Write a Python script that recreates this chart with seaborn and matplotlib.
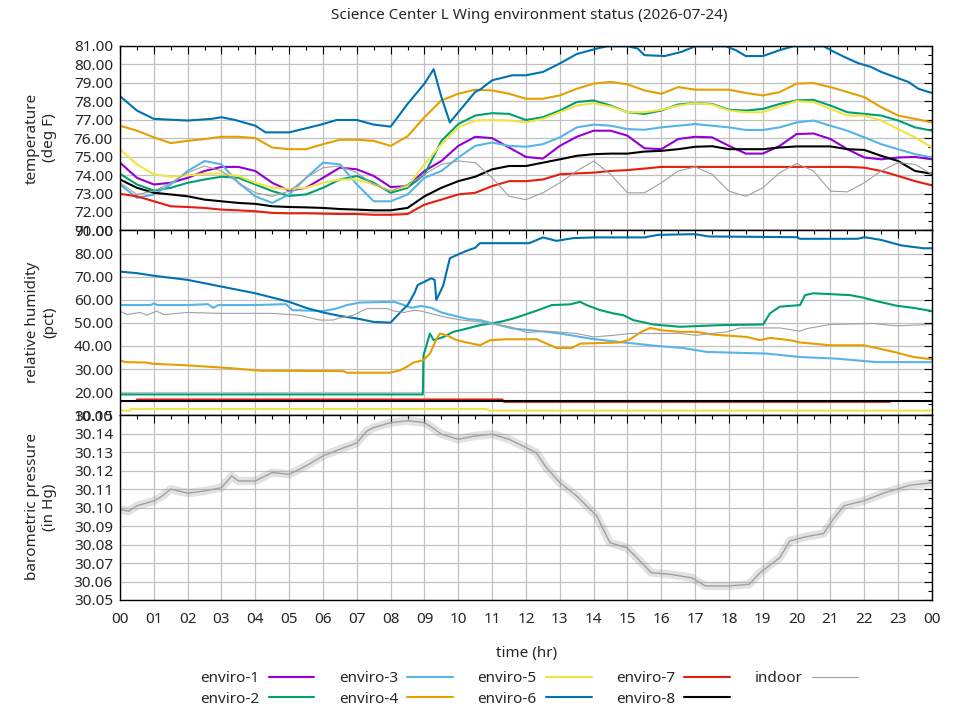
import matplotlib
matplotlib.use("Agg")
import matplotlib.pyplot as plt
import seaborn as sns
from matplotlib.lines import Line2D
from matplotlib.ticker import MultipleLocator, FormatStrFormatter

# ---------------- data ----------------
TITLE = "Science Center L Wing environment status (2026-07-24)"
SENSORS = ["enviro-1", "enviro-2", "enviro-3", "enviro-4", "enviro-5",
           "enviro-6", "enviro-7", "enviro-8", "indoor"]
COLORS = ["#9400d3", "#009e73", "#56b4e9", "#e69f00", "#f0e442",
          "#0072b2", "#e51e10", "#000000", "#a0a0a0"]
HOUR_LABELS = ["00", "01", "02", "03", "04", "05", "06", "07", "08", "09", "10", "11",
               "12", "13", "14", "15", "16", "17", "18", "19", "20", "21", "22", "23", "00"]
TEMP_TICKS = [71, 72, 73, 74, 75, 76, 77, 78, 79, 80, 81]
HUM_TICKS = [10, 20, 30, 40, 50, 60, 70, 80, 90]
PRES_TICKS = [30.05, 30.06, 30.07, 30.08, 30.09, 30.10, 30.11, 30.12, 30.13, 30.14, 30.15]

# half-hour sampling of temperature curves (hours)
T_HOURS = [0, 0.5, 1, 1.5, 2, 2.5, 3, 3.5, 4, 4.5, 5, 5.5, 6, 6.5, 7, 7.5, 8, 8.5,
           9, 9.5, 10, 10.5, 11, 11.5, 12, 12.5, 13, 13.5, 14, 14.5, 15, 15.5, 16, 16.5,
           17, 17.5, 18, 18.5, 19, 19.5, 20, 20.5, 21, 21.5, 22, 22.5, 23, 23.5, 24]

T_E1 = [74.67, 73.85, 73.49, 73.58, 73.85, 74.22, 74.44, 74.44, 74.22, 73.58, 73.16, 73.31,
        73.85, 74.40, 74.31, 73.95, 73.35, 73.40, 74.22, 74.76, 75.58, 76.07,
        76.00, 75.49, 74.98, 74.89, 75.58, 76.07, 76.40, 76.40, 76.13, 75.45, 75.40, 75.95,
        76.07, 76.04, 75.58, 75.16, 75.16, 75.58, 76.22, 76.25, 75.95, 75.40, 74.95, 74.85,
        74.95, 74.98, 74.85]
T_E2 = [74.07, 73.49, 73.16, 73.31, 73.58, 73.76, 73.91, 73.85, 73.49, 73.13, 72.87, 72.95,
        73.31, 73.76, 73.95, 73.58, 73.04, 73.31, 74.04, 75.85, 76.76, 77.22,
        77.35, 77.31, 76.98, 77.13, 77.49, 77.95, 78.04, 77.76, 77.40, 77.31, 77.49, 77.82,
        77.89, 77.85, 77.53, 77.49, 77.58, 77.85, 78.04, 78.07, 77.76, 77.40, 77.31, 77.22,
        76.95, 76.58, 76.40]
T_E3 = [73.49, 72.76, 72.95, 73.49, 74.22, 74.76, 74.58, 73.58, 72.85, 72.49, 72.95, 73.85,
        74.67, 74.58, 73.49, 72.58, 72.58, 72.95, 73.85, 74.22, 74.95, 75.58,
        75.76, 75.58, 75.53, 75.67, 76.04, 76.58, 76.73, 76.67, 76.49, 76.45, 76.58, 76.67,
        76.76, 76.67, 76.58, 76.44, 76.44, 76.58, 76.85, 76.95, 76.67, 76.40, 76.04, 75.67,
        75.40, 75.13, 74.95]
T_E4 = [76.67, 76.40, 76.04, 75.73, 75.85, 75.95, 76.07, 76.07, 76.00, 75.49, 75.40, 75.40,
        75.67, 75.91, 75.91, 75.85, 75.58, 76.10, 77.13, 78.04, 78.40, 78.62,
        78.58, 78.40, 78.13, 78.13, 78.31, 78.67, 78.95, 79.04, 78.91, 78.58, 78.40, 78.76,
        78.62, 78.62, 78.62, 78.44, 78.31, 78.49, 78.95, 78.98, 78.76, 78.49, 78.22, 77.67,
        77.22, 77.04, 76.85]
T_E5 = [75.40, 74.58, 74.04, 73.91, 73.98, 74.07, 74.09, 73.95, 73.58, 73.31, 73.25, 73.31,
        73.58, 73.76, 73.76, 73.49, 73.16, 73.40, 74.58, 75.67, 76.58, 76.95,
        76.98, 76.95, 76.85, 77.04, 77.40, 77.76, 77.89, 77.71, 77.40, 77.40, 77.53, 77.76,
        77.89, 77.82, 77.49, 77.40, 77.40, 77.71, 78.00, 77.95, 77.58, 77.22, 77.22, 76.95,
        76.49, 76.04, 75.49]
T_E7 = [72.98, 72.85, 72.58, 72.31, 72.27, 72.22, 72.13, 72.09, 72.04, 71.95, 71.93, 71.93,
        71.91, 71.89, 71.89, 71.85, 71.85, 71.89, 72.40, 72.67, 72.95, 73.04,
        73.40, 73.67, 73.67, 73.76, 74.04, 74.09, 74.13, 74.22, 74.27, 74.35, 74.44, 74.44,
        74.44, 74.44, 74.44, 74.44, 74.44, 74.44, 74.44, 74.44, 74.44, 74.44, 74.40, 74.22,
        73.95, 73.67, 73.44]
T_E8 = [73.76, 73.31, 73.04, 72.95, 72.85, 72.67, 72.58, 72.49, 72.44, 72.31, 72.27, 72.25,
        72.22, 72.16, 72.13, 72.09, 72.09, 72.22, 72.85, 73.31, 73.67, 73.91,
        74.31, 74.49, 74.49, 74.67, 74.85, 75.04, 75.13, 75.16, 75.16, 75.27, 75.31, 75.40,
        75.53, 75.56, 75.40, 75.40, 75.40, 75.49, 75.55, 75.55, 75.55, 75.40, 75.36, 75.04,
        74.76, 74.22, 74.07]
T_IN = [73.58, 72.95, 73.13, 73.58, 74.13, 74.49, 74.22, 73.58, 73.04, 72.85, 73.13, 73.85,
        74.40, 74.49, 74.13, 73.49, 73.13, 73.49, 74.04, 74.58, 74.76, 74.67,
        73.85, 72.85, 72.67, 73.04, 73.58, 74.22, 74.76, 74.04, 73.04, 73.04, 73.58, 74.22,
        74.44, 74.04, 73.13, 72.85, 73.31, 74.13, 74.62, 74.22, 73.13, 73.09, 73.58, 74.22,
        74.67, 74.58, 74.04]

T_E6_X = [0, 0.5, 1.0, 2.0, 2.7, 3.0, 3.4, 4.0, 4.3, 5.0, 5.5, 6.0, 6.4, 7.0, 7.5, 8.0,
          8.5, 9.0, 9.27, 9.5, 9.75, 10.0, 10.5, 10.64, 11.0, 11.6, 12.0, 12.5, 13.0, 13.5,
          14.1, 14.4, 15.0, 15.3, 15.5, 16.1, 16.6, 17.0, 17.9, 18.2, 18.5, 19.0, 19.5, 19.9,
          20.8, 21.1, 21.4, 21.8, 22.2, 22.5, 22.9, 23.3, 23.6, 24.0]
T_E6 = [78.27, 77.49, 77.04, 76.95, 77.04, 77.13, 76.98, 76.67, 76.31, 76.31, 76.53, 76.76,
        76.98, 76.98, 76.73, 76.62, 77.85, 78.95, 79.73, 78.22, 76.85, 77.40, 78.50, 78.62,
        79.13, 79.40, 79.40, 79.58, 80.04, 80.55, 80.85, 80.97, 80.97, 80.85, 80.49, 80.44,
        80.67, 80.97, 80.97, 80.76, 80.44, 80.44, 80.76, 80.97, 80.97, 80.67, 80.40, 80.07,
        79.85, 79.58, 79.31, 79.04, 78.67, 78.44]

# relative humidity
H_E2_X = [0, 8.95, 8.97, 9.06, 9.16, 9.27, 9.56, 9.85, 10.25, 10.64, 11.23, 11.63, 11.92,
          12.36, 12.76, 13.3, 13.6, 13.79, 14.19, 14.58, 14.88, 15.17, 15.76, 16.55, 17.73,
          19.01, 19.21, 19.5, 20.1, 20.25, 20.49, 21.58, 21.97, 22.36, 22.96, 23.45, 24.0]
H_E2 = [19.0, 19.0, 35.9, 40.3, 45.4, 42.5, 43.9, 46.1, 47.5, 49.0, 50.4, 51.9, 53.3, 55.5,
        57.7, 58.0, 59.1, 57.7, 55.5, 54.1, 53.3, 51.2, 49.3, 48.3, 49.0, 49.3, 54.1, 57.0,
        57.7, 62.0, 62.8, 62.0, 60.9, 59.4, 57.4, 56.5, 55.1]
H_E3_X = [0, 0.9, 1.0, 1.1, 2.0, 2.6, 2.76, 2.9, 4.0, 4.9, 5.1, 6.0, 6.4, 6.7, 7.1, 8.1,
          8.4, 8.6, 8.9, 9.2, 9.5, 9.9, 10.3, 10.64, 11.03, 11.63, 12.61, 13.0, 13.89, 14.58,
          15.86, 16.65, 17.34, 19.11, 20.1, 21.18, 22.36, 24.0]
H_E3 = [57.7, 57.7, 58.4, 57.7, 57.7, 58.1, 56.5, 57.7, 57.7, 58.1, 55.5, 55.1, 56.2, 57.7,
        58.8, 59.1, 57.7, 56.5, 57.3, 56.5, 54.5, 53.0, 51.6, 51.2, 49.7, 47.5, 46.1, 45.4,
        43.2, 42.0, 40.0, 39.1, 37.4, 36.7, 35.2, 34.5, 33.0, 33.0]
H_E4_X = [0, 0.15, 0.79, 0.95, 1.97, 3.25, 4.14, 6.6, 6.7, 7.98, 8.27, 8.47, 8.67, 8.96,
          9.16, 9.36, 9.46, 9.66, 9.95, 10.25, 10.64, 10.94, 11.43, 12.32, 12.61, 12.91,
          13.35, 13.6, 14.78, 15.07, 15.37, 15.67, 16.01, 16.55, 17.04, 17.54, 18.52, 18.92,
          19.21, 19.8, 20.1, 20.99, 21.97, 22.46, 22.96, 23.45, 24.0]
H_E4 = [33.8, 33.0, 32.8, 32.3, 31.6, 30.4, 29.3, 29.1, 28.4, 28.4, 29.4, 30.9, 32.8, 33.8,
        36.7, 43.2, 45.4, 44.6, 42.5, 41.5, 40.3, 42.5, 42.9, 42.9, 41.0, 39.1, 39.1, 41.0,
        41.5, 42.8, 45.8, 47.8, 46.8, 46.1, 46.1, 44.9, 43.9, 42.5, 43.5, 42.5, 41.5, 40.3,
        40.3, 38.8, 37.1, 35.2, 34.2]
H_E5_X = [0, 0.3, 0.32, 10.84, 10.9, 24.0]
H_E5 = [12.0, 12.0, 12.7, 12.7, 12.0, 12.0]
H_E6_X = [0, 0.5, 1, 2, 3, 4, 5, 5.5, 6, 6.5, 7, 7.5, 8, 8.3, 8.5, 8.7, 8.8, 9.0, 9.2, 9.3,
          9.35, 9.55, 9.75, 10.05, 10.3, 10.5, 10.64, 10.74, 12.1, 12.5, 12.9, 13.4, 14.0,
          15.5, 15.9, 17.0, 17.4, 20.0, 20.1, 21.8, 22.0, 22.5, 23.1, 23.75, 24.0]
H_E6 = [72.2, 71.5, 70.4, 68.6, 65.7, 62.8, 59.1, 56.5, 54.5, 53.0, 51.9, 50.4, 50.1, 54.8,
        57.7, 62.8, 66.4, 67.8, 69.3, 68.6, 59.9, 66.0, 78.0, 80.0, 81.5, 82.5, 84.5, 84.5,
        84.5, 87.0, 85.5, 86.7, 87.0, 87.0, 88.1, 88.4, 87.4, 87.1, 86.4, 86.4, 87.1, 85.9,
        83.5, 82.3, 82.3]
H_E7_X = [0.5, 11.3, 11.35, 22.76]
H_E7 = [16.8, 16.8, 15.8, 15.8]
H_E8_X = [0, 24.0]
H_E8 = [16.1, 16.1]
H_IN_X = [0, 0.2, 0.6, 0.8, 1.08, 1.3, 2.0, 3.0, 4.5, 5.3, 5.9, 6.3, 6.5, 6.9, 7.1, 7.3,
          7.9, 8.1, 8.4, 8.7, 8.9, 9.3, 9.7, 10.1, 10.64, 11.53, 12.02, 12.61, 13.5, 13.99,
          14.58, 15.07, 16.55, 17.04, 17.93, 18.33, 19.5, 20.1, 20.3, 20.99, 22.27, 22.96, 24.0]
H_IN = [55.1, 53.6, 54.5, 53.3, 55.1, 53.6, 54.5, 54.1, 54.1, 53.3, 51.2, 51.2, 52.2, 53.3,
        54.8, 56.2, 56.2, 55.1, 54.5, 55.5, 55.1, 53.6, 52.2, 51.2, 50.4, 48.3, 45.8, 46.4,
        45.4, 43.9, 44.6, 45.4, 45.4, 44.6, 46.1, 47.8, 47.8, 46.4, 47.5, 49.3, 49.7, 48.7, 49.3]

# barometric pressure (indoor)
P_X = [0, 0.25, 0.5, 1.0, 1.25, 1.5, 2.0, 2.5, 3.0, 3.3, 3.5, 4.0, 4.5, 5.0, 5.5, 6.0, 6.5,
       7.0, 7.3, 7.5, 8.0, 8.5, 9.0, 9.3, 9.5, 10.0, 10.5, 11.0, 11.5, 12.0, 12.3, 12.6, 13.0,
       13.5, 14.09, 14.48, 14.98, 15.37, 15.7, 16.26, 16.9, 17.3, 18.0, 18.6, 18.92, 19.5,
       19.8, 20.3, 20.8, 21.08, 21.4, 21.97, 22.6, 23.35, 24.0]
P_IN = [30.0991, 30.0980, 30.1010, 30.1036, 30.1063, 30.1100, 30.1078, 30.1090, 30.1108,
        30.1171, 30.1144, 30.1144, 30.1190, 30.1180, 30.1226, 30.1280, 30.1316, 30.1350,
        30.1415, 30.1433, 30.1460, 30.1470, 30.1460, 30.1424, 30.1397, 30.1370, 30.1388,
        30.1397, 30.1370, 30.1325, 30.1298, 30.1217, 30.1135, 30.1063, 30.0955, 30.0810,
        30.0783, 30.0711, 30.0648, 30.0639, 30.0620, 30.0576, 30.0576, 30.0585, 30.0648,
        30.0729, 30.0820, 30.0843, 30.0860, 30.0937, 30.1010, 30.1036, 30.1080, 30.1121,
        30.1135]

# ---------------- style ----------------
sns.set_theme(style="white")
plt.rcParams["font.family"] = ["Noto Sans", "DejaVu Sans"]
plt.rcParams["font.size"] = 11

COL = dict(zip(SENSORS, COLORS))
LW_ENV = 1.5
LW_IN = 0.8

fig = plt.figure(figsize=(9.6, 7.2), dpi=100)
gs = fig.add_gridspec(3, 1, left=0.125, right=0.9708, top=0.9365, bottom=0.1667, hspace=0)
axT = fig.add_subplot(gs[0])
axH = fig.add_subplot(gs[1], sharex=axT)
axP = fig.add_subplot(gs[2], sharex=axT)

# temperature panel
temp_series = [("enviro-1", T_HOURS, T_E1), ("enviro-2", T_HOURS, T_E2),
               ("enviro-3", T_HOURS, T_E3), ("enviro-4", T_HOURS, T_E4),
               ("enviro-5", T_HOURS, T_E5), ("enviro-6", T_E6_X, T_E6),
               ("enviro-7", T_HOURS, T_E7), ("enviro-8", T_HOURS, T_E8),
               ("indoor", T_HOURS, T_IN)]
for name, xs, ys in temp_series:
    sns.lineplot(x=xs, y=ys, ax=axT, color=COL[name],
                 linewidth=LW_IN if name == "indoor" else LW_ENV, legend=False)

hum_series = [("enviro-2", H_E2_X, H_E2), ("enviro-3", H_E3_X, H_E3),
              ("enviro-4", H_E4_X, H_E4), ("enviro-5", H_E5_X, H_E5),
              ("enviro-6", H_E6_X, H_E6), ("enviro-7", H_E7_X, H_E7),
              ("enviro-8", H_E8_X, H_E8), ("indoor", H_IN_X, H_IN)]
for name, xs, ys in hum_series:
    sns.lineplot(x=xs, y=ys, ax=axH, color=COL[name],
                 linewidth=LW_IN if name == "indoor" else LW_ENV, legend=False)

# pressure: noisy trace rendered as a soft band plus a thin line
sns.lineplot(x=P_X, y=P_IN, ax=axP, color=COL["indoor"], linewidth=6.0, alpha=0.3, legend=False)
sns.lineplot(x=P_X, y=P_IN, ax=axP, color=COL["indoor"], linewidth=1.0, legend=False)

for ax in (axT, axH, axP):
    ax.set_xlim(0, 24)
    ax.set_xticks(range(25))
    ax.xaxis.set_minor_locator(MultipleLocator(0.5))
    ax.grid(True, which="major", color="#c0c0c0", linewidth=0.9)
    ax.set_axisbelow(True)
    ax.tick_params(which="both", direction="in", top=True, right=True,
                   color="black", width=0.8, labelsize=11)
    ax.tick_params(which="major", length=6, pad=5)
    ax.tick_params(which="minor", length=3)
    for sp in ax.spines.values():
        sp.set_color("black")
        sp.set_linewidth(1.0)
    ax.set_xlabel("")
    ax.set_ylabel("")

axT.set_ylim(71, 81)
axT.set_yticks(TEMP_TICKS)
axT.yaxis.set_minor_locator(MultipleLocator(0.5))
axT.yaxis.set_major_formatter(FormatStrFormatter("%.2f"))

axH.set_ylim(10, 90)
axH.set_yticks(HUM_TICKS)
axH.yaxis.set_minor_locator(MultipleLocator(5))
axH.yaxis.set_major_formatter(FormatStrFormatter("%.2f"))

axP.set_ylim(30.05, 30.15)
axP.set_yticks(PRES_TICKS)
axP.yaxis.set_minor_locator(MultipleLocator(0.005))
axP.yaxis.set_major_formatter(FormatStrFormatter("%.2f"))

axT.tick_params(axis="x", labelbottom=False)
axH.tick_params(axis="x", labelbottom=False)
axP.set_xticklabels(HOUR_LABELS)
axP.tick_params(axis="x", pad=9)

# texts
fig.text(0.551, 0.979, TITLE, ha="center", va="center", fontsize=11)
fig.text(41 / 960, 1 - 138 / 720, "temperature\n(deg F)", rotation=90,
         ha="center", va="center", multialignment="center", fontsize=11)
fig.text(41 / 960, 1 - 322 / 720, "relative humidity\n(pct)", rotation=90,
         ha="center", va="center", multialignment="center", fontsize=11)
fig.text(41 / 960, 1 - 507 / 720, "barometric pressure\n(in Hg)", rotation=90,
         ha="center", va="center", multialignment="center", fontsize=11)
fig.text(0.548, 1 - 653 / 720, "time (hr)", ha="center", va="center", fontsize=11)

handles = [Line2D([], [], color=COL[n], linewidth=LW_IN if n == "indoor" else LW_ENV)
           for n in SENSORS]
fig.legend(handles, SENSORS, loc="center", bbox_to_anchor=(0.551, 1 - 689 / 720),
           ncol=5, frameon=False, markerfirst=False, fontsize=11,
           handlelength=3.0, handletextpad=0.6, columnspacing=1.6, labelspacing=0.35,
           borderpad=0.0)

fig.savefig("out.png", dpi=100)
